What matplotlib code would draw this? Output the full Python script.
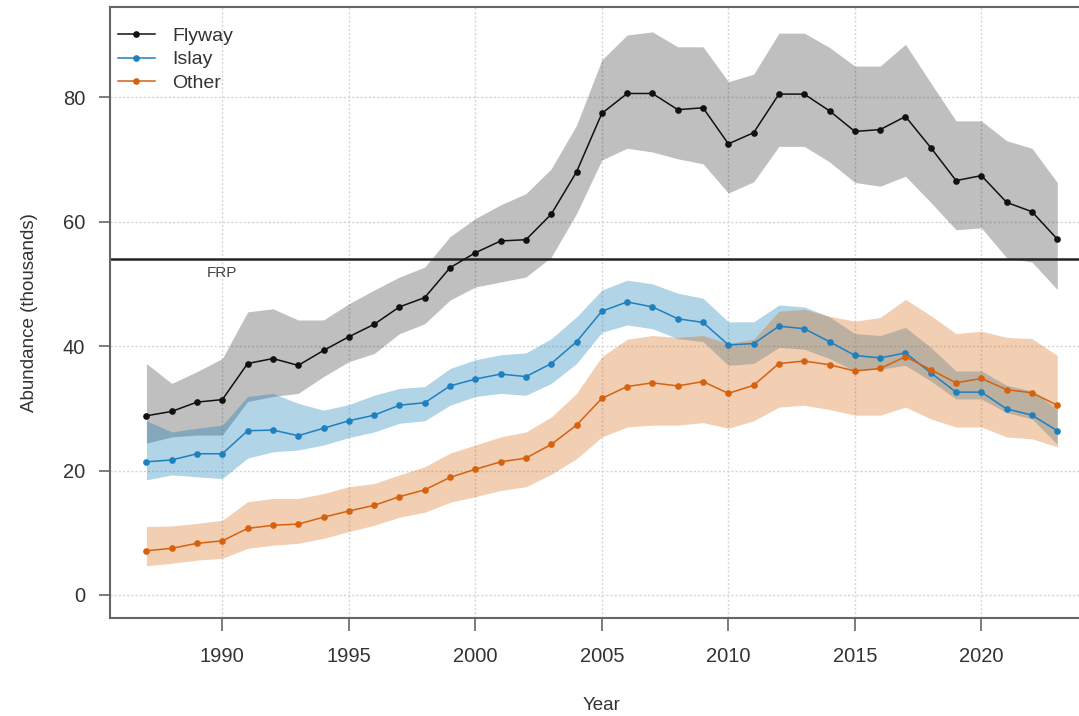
import numpy as np
import matplotlib
matplotlib.use("Agg")
import matplotlib.pyplot as plt

plt.rcParams['font.family'] = ['Liberation Sans', 'DejaVu Sans']

# Survey years
years = np.arange(1987, 2024)

# Abundance (thousands) with lower/upper credible limits
flyway = [28.8, 29.5, 31.0, 31.4, 37.2, 38.0, 36.9, 39.3, 41.5, 43.5,
          46.3, 47.8, 52.6, 55.0, 56.9, 57.1, 61.2, 68.0, 77.4, 80.6,
          80.6, 78.0, 78.3, 72.5, 74.3, 80.5, 80.5, 77.8, 74.5, 74.8,
          76.9, 71.9, 66.6, 67.4, 63.1, 61.6, 57.2]
flyway_hi = [37.2, 34.0, 35.9, 38.0, 45.5, 46.0, 44.2, 44.2, 46.8, 49.0,
             51.1, 52.7, 57.6, 60.5, 62.7, 64.5, 68.5, 75.5, 86.0, 90.0,
             90.5, 88.1, 88.1, 82.5, 83.7, 90.3, 90.3, 88.0, 85.0, 85.0,
             88.5, 82.3, 76.2, 76.2, 73.0, 71.8, 66.3]
flyway_lo = [24.4, 25.4, 25.7, 25.7, 31.1, 31.9, 32.4, 35.1, 37.5, 38.8,
             42.0, 43.6, 47.4, 49.5, 50.3, 51.1, 54.3, 61.3, 69.9, 71.8,
             71.2, 70.1, 69.3, 64.6, 66.4, 72.1, 72.1, 69.6, 66.3, 65.7,
             67.3, 63.1, 58.7, 59.0, 54.2, 53.5, 49.1]

islay = [21.4, 21.7, 22.7, 22.7, 26.4, 26.5, 25.6, 26.8, 28.0, 28.9,
         30.5, 30.9, 33.6, 34.7, 35.5, 35.1, 37.2, 40.7, 45.6, 47.1,
         46.3, 44.4, 43.8, 40.2, 40.4, 43.2, 42.8, 40.7, 38.5, 38.1,
         38.9, 35.7, 32.6, 32.6, 29.9, 28.9, 26.4]
islay_hi = [28.0, 26.2, 26.8, 27.3, 31.9, 32.4, 30.8, 29.7, 30.6, 32.1,
            33.2, 33.5, 36.4, 37.8, 38.6, 38.9, 41.2, 44.7, 49.0, 50.6,
            50.0, 48.5, 47.7, 43.9, 43.9, 46.6, 46.3, 44.7, 42.0, 41.7,
            43.0, 39.8, 36.0, 36.0, 33.7, 32.8, 29.9]
islay_lo = [18.5, 19.3, 19.0, 18.7, 22.0, 23.0, 23.3, 24.1, 25.3, 26.2,
            27.6, 28.0, 30.5, 31.9, 32.4, 32.1, 34.0, 37.2, 42.2, 43.4,
            42.8, 41.2, 40.7, 36.9, 37.2, 39.8, 39.5, 38.0, 36.0, 36.3,
            36.9, 34.4, 31.5, 31.5, 29.3, 28.3, 24.2]

other = [7.1, 7.5, 8.3, 8.7, 10.7, 11.2, 11.4, 12.5, 13.5, 14.4,
         15.8, 16.9, 18.9, 20.2, 21.4, 22.0, 24.2, 27.3, 31.6, 33.5,
         34.1, 33.6, 34.3, 32.4, 33.7, 37.2, 37.6, 37.0, 36.0, 36.4,
         38.3, 36.2, 34.1, 34.8, 33.0, 32.5, 30.5]
other_hi = [11.0, 11.1, 11.5, 12.0, 15.0, 15.5, 15.5, 16.3, 17.4, 17.9,
            19.3, 20.6, 22.8, 24.1, 25.4, 26.2, 28.6, 32.4, 38.3, 41.1,
            41.7, 41.4, 41.7, 40.4, 41.1, 45.6, 45.9, 44.8, 44.0, 44.6,
            47.5, 44.9, 42.0, 42.4, 41.4, 41.2, 38.5]
other_lo = [4.7, 5.1, 5.6, 5.9, 7.5, 8.0, 8.3, 9.1, 10.2, 11.2,
            12.5, 13.3, 14.9, 15.8, 16.8, 17.4, 19.4, 21.9, 25.4, 27.0,
            27.3, 27.3, 27.7, 26.8, 28.0, 30.2, 30.5, 29.8, 28.9, 28.9,
            30.2, 28.3, 27.0, 27.0, 25.4, 25.1, 23.8]

frp = 54
xticks = [1990, 1995, 2000, 2005, 2010, 2015, 2020]
yticks = [0, 20, 40, 60, 80]

series = [
    ("Flyway", flyway, flyway_lo, flyway_hi, "#111111", "#000000", 0.25),
    ("Islay", islay, islay_lo, islay_hi, "#1f80c0", "#0072B2", 0.30),
    ("Other", other, other_lo, other_hi, "#d5620f", "#D55E00", 0.30),
]

fig = plt.figure(figsize=(10.79, 7.16), dpi=100)
ax = fig.add_axes([110 / 1079, 98 / 716, 983.7 / 1079, 611 / 716])

# grid first so bands sit on top
for x in xticks:
    ax.axvline(x, color="#d4d4d4", lw=1, ls=(0, (1.5, 1.5)), zorder=0)
for y in yticks:
    ax.axhline(y, color="#d4d4d4", lw=1, ls=(0, (1.5, 1.5)), zorder=0)

for name, mid, lo, hi, lcol, fcol, alpha in series:
    ax.fill_between(years, lo, hi, color=fcol, alpha=alpha, lw=0, zorder=1)

for name, mid, lo, hi, lcol, fcol, alpha in series:
    ax.plot(years, mid, color=lcol, lw=1.1, marker="o", markersize=4.8,
            markeredgewidth=0, label=name, zorder=3)

ax.axhline(frp, color="#222222", lw=1.8, zorder=2)
ax.text(1990, frp - 2.2, "FRP", ha="center", va="center",
        fontsize=11, color="#444444")

ax.set_xlim(1985.56, 2024.44)
ax.set_ylim(-3.7, 94.5)
ax.set_xticks(xticks)
ax.set_yticks(yticks)

for side in ["left", "bottom", "top", "right"]:
    ax.spines[side].set_color("#666666")
    ax.spines[side].set_linewidth(1.5)

ax.tick_params(axis="x", direction="out", length=9, width=1.2,
               color="#666666", labelcolor="#333333", labelsize=14.5, pad=12)
ax.tick_params(axis="y", direction="out", length=8, width=1.2,
               color="#666666", labelcolor="#333333", labelsize=14.5, pad=10)

ax.set_xlabel("Year", fontsize=13.5, color="#333333", labelpad=22)
ax.set_ylabel("Abundance (thousands)", fontsize=13.5, color="#333333", labelpad=18)

ax.legend(loc="upper left", bbox_to_anchor=(0.0, 0.98), frameon=False,
          fontsize=14, handlelength=1.9, handletextpad=0.9,
          labelspacing=0.32, borderaxespad=0.0, borderpad=0.4,
          labelcolor="#333333")

fig.savefig("out.png", dpi=100)
